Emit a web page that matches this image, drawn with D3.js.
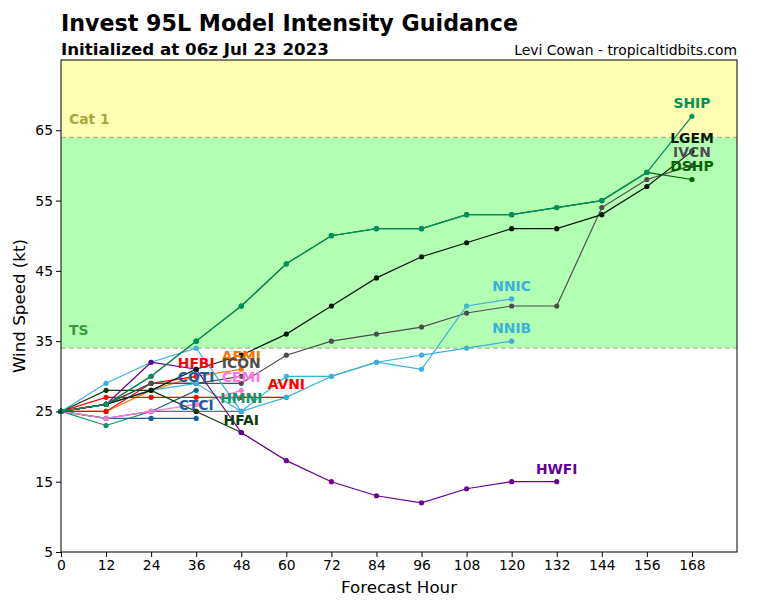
<!DOCTYPE html>
<html>
<head>
<meta charset="utf-8">
<script src="https://cdn.jsdelivr.net/npm/d3@7"></script>
<style>
  html, body { margin: 0; padding: 0; background: #fff; }
  svg { display: block; font-family: "DejaVu Sans", sans-serif; }
</style>
</head>
<body>
<svg id="chart" width="768" height="600"></svg>
<script>
// ---------- data ----------
const hours = [0, 12, 24, 36, 48, 60, 72, 84, 96, 108, 120, 132, 144, 156, 168];
const xTicks = [0, 12, 24, 36, 48, 60, 72, 84, 96, 108, 120, 132, 144, 156, 168];
const yTicks = [5, 15, 25, 35, 45, 55, 65];

const modelNames = ["HMNI", "CTCI", "COTI", "CEMI", "AEMI", "HFBI", "AVNI", "HFAI",
                    "ICON", "IVCN", "NNIB", "NNIC", "HWFI", "LGEM", "DSHP", "SHIP"];

const HMNI = [25, 23, 25, 25, 25];
const CTCI = [25, 24, 24, 24];
const COTI = [25, 24, 25, 28];
const CEMI = [25, 24, 25, 26, 28];
const AEMI = [25, 25, 28, 30, 31];
const HFBI = [25, 25, 29, 30];
const AVNI = [25, 27, 27, 27, 27, 27];
const HFAI = [25, 28, 28, 25, 22];
const ICON = [25, 26, 29, 29, 30];
const IVCN = [25, 26, 29, 29, 29, 33, 35, 36, 37, 39, 40, 40, 54, 58, 60];
const NNIB = [25, 26, 28, 29, 25, 30, 30, 32, 33, 34, 35];
const NNIC = [25, 29, 32, 34, 25, 27, 30, 32, 31, 40, 41];
const HWFI = [25, 26, 32, 31, 22, 18, 15, 13, 12, 14, 15, 15];
const LGEM = [25, 26, 28, 31, 33, 36, 40, 44, 47, 49, 51, 51, 53, 57, 62];
const DSHP = [25, 26, 30, 35, 40, 46, 50, 51, 51, 53, 53, 54, 55, 59, 58];
const SHIP = [25, 26, 30, 35, 40, 46, 50, 51, 51, 53, 53, 54, 55, 59, 67];

const seriesValues = { HMNI, CTCI, COTI, CEMI, AEMI, HFBI, AVNI, HFAI,
                       ICON, IVCN, NNIB, NNIC, HWFI, LGEM, DSHP, SHIP };

// intensity bands
const bandNames = ["TS", "Cat 1"];
const bandLows = [34, 64];
const bandHighs = [64, 75];

// ---------- styles ----------
const colors = {
  HMNI: "#0f9567", CTCI: "#1a5f9c", COTI: "#1a5f9c", CEMI: "#ff77dd",
  AEMI: "#ff7300", HFBI: "#ff0000", AVNI: "#ff0000", HFAI: "#0b3a0b",
  ICON: "#4d4d4d", IVCN: "#4d4d4d", NNIB: "#3bb0da", NNIC: "#3bb0da",
  HWFI: "#660094", LGEM: "#061806", DSHP: "#006400", SHIP: "#00905f"
};
const bandFill = { "TS": "#b3ffb3", "Cat 1": "#ffffb3" };
const bandText = { "TS": "#3a9a3a", "Cat 1": "#a8a83c" };

const W = 768, H = 600;
const m = { left: 61, right: 737, top: 60, bottom: 552 };

const svg = d3.select("#chart");
const x = d3.scaleLinear().domain([0, 180]).range([m.left, m.right]);
const y = d3.scaleLinear().domain([5, 75]).range([m.bottom, m.top]);

// bands
bandNames.forEach((b, i) => {
  svg.append("rect")
    .attr("x", m.left).attr("width", m.right - m.left)
    .attr("y", y(bandHighs[i])).attr("height", y(bandLows[i]) - y(bandHighs[i]))
    .attr("fill", bandFill[b]);
  svg.append("line")
    .attr("x1", m.left).attr("x2", m.right)
    .attr("y1", y(bandLows[i])).attr("y2", y(bandLows[i]))
    .attr("stroke", "#8a9a6a").attr("stroke-opacity", 0.8)
    .attr("stroke-width", 1).attr("stroke-dasharray", "5,3");
  svg.append("text")
    .attr("x", m.left + 8).attr("y", y(bandLows[i]) - 13)
    .attr("fill", bandText[b]).attr("font-weight", "bold").attr("font-size", "13.9px")
    .text(b);
});

// lines
const line = d3.line().x((d, i) => x(hours[i])).y(d => y(d));
const g = svg.append("g");
modelNames.forEach(name => {
  const vals = seriesValues[name];
  g.append("path").datum(vals)
    .attr("d", line).attr("fill", "none")
    .attr("stroke", colors[name]).attr("stroke-width", 1.2);
  g.selectAll(null).data(vals).enter().append("circle")
    .attr("cx", (d, i) => x(hours[i])).attr("cy", d => y(d))
    .attr("r", 2.6).attr("fill", colors[name]);
});

// labels
modelNames.forEach(name => {
  const vals = seriesValues[name];
  const li = vals.length - 1;
  svg.append("text")
    .attr("x", x(hours[li])).attr("y", y(vals[li]) - 8)
    .attr("text-anchor", "middle")
    .attr("fill", colors[name]).attr("font-weight", "bold").attr("font-size", "13.9px")
    .text(name);
});

// frame
svg.append("rect")
  .attr("x", m.left).attr("y", m.top)
  .attr("width", m.right - m.left).attr("height", m.bottom - m.top)
  .attr("fill", "none").attr("stroke", "#000").attr("stroke-width", 1);

// axes
const xAxis = d3.axisBottom(x).tickValues(xTicks).tickSize(5).tickPadding(3);
const yAxis = d3.axisLeft(y).tickValues(yTicks).tickSize(5).tickPadding(3);
const gx = svg.append("g").attr("transform", `translate(0,${m.bottom})`).call(xAxis);
const gy = svg.append("g").attr("transform", `translate(${m.left},0)`).call(yAxis);
[gx, gy].forEach(a => {
  a.select(".domain").remove();
  a.selectAll("text").attr("font-size", "13.9px").attr("fill", "#000")
    .attr("font-family", "DejaVu Sans, sans-serif");
  a.selectAll("line").attr("stroke", "#000");
});

// axis titles
svg.append("text")
  .attr("x", (m.left + m.right) / 2).attr("y", 593)
  .attr("text-anchor", "middle").attr("font-size", "16.7px")
  .text("Forecast Hour");
svg.append("text")
  .attr("transform", `translate(25,${(m.top + m.bottom) / 2}) rotate(-90)`)
  .attr("text-anchor", "middle").attr("font-size", "16.7px")
  .text("Wind Speed (kt)");

// titles
svg.append("text")
  .attr("x", m.left).attr("y", 31)
  .attr("font-size", "22.2px").attr("font-weight", "bold")
  .text("Invest 95L Model Intensity Guidance");
svg.append("text")
  .attr("x", m.left).attr("y", 55)
  .attr("font-size", "16.7px").attr("font-weight", "bold")
  .text("Initialized at 06z Jul 23 2023");
svg.append("text")
  .attr("x", m.right).attr("y", 55)
  .attr("text-anchor", "end").attr("font-size", "13.9px")
  .text("Levi Cowan - tropicaltidbits.com");
</script>
</body>
</html>
